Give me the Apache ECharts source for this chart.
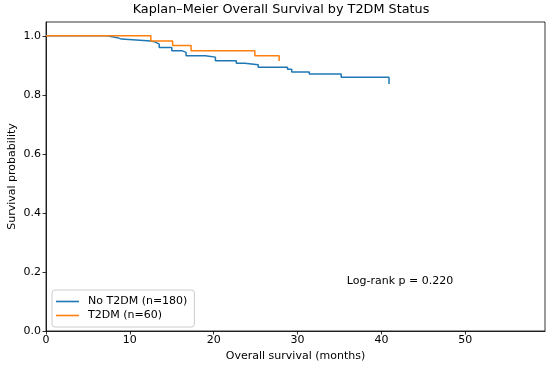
<!DOCTYPE html>
<html>
<head>
<meta charset="utf-8">
<script src="https://cdn.jsdelivr.net/npm/echarts@6/dist/echarts.min.js"></script>
<style>html,body{margin:0;padding:0;background:#fff}#c{width:550px;height:368px}</style>
</head>
<body>
<div id="c"></div>
<script>
// Data
const noT2dmTimes    = [0, 7.3, 8.5, 9.0, 12.5, 13.1, 13.5, 15.0, 16.2, 16.7, 19.0, 20.2, 22.7, 23.7, 25.3, 28.8, 29.3, 31.4, 35.2, 40.9];
const noT2dmSurvival = [1.0, 0.994, 0.989, 0.983, 0.978, 0.972, 0.961, 0.950, 0.944, 0.933, 0.928, 0.916, 0.907, 0.902, 0.894, 0.887, 0.878, 0.871, 0.860, 0.837];
const t2dmTimes      = [0, 12.5, 15.1, 17.3, 24.9, 27.8];
const t2dmSurvival   = [1.0, 0.983, 0.967, 0.950, 0.933, 0.915];
const seriesNames    = ['No T2DM (n=180)', 'T2DM (n=60)'];
const xTicks = [0, 10, 20, 30, 40, 50];
const yTicks = [0.0, 0.2, 0.4, 0.6, 0.8, 1.0];
const annotation = 'Log-rank p = 0.220';

const FONT = 'DejaVu Sans';
const chart = echarts.init(document.getElementById('c'), null, {renderer: 'canvas'});
const zip = (a, b) => a.map((v, i) => [v, b[i]]);

chart.setOption({
  animation: false,
  backgroundColor: '#fff',
  textStyle: {fontFamily: FONT},
  grid: {left: 46, right: 5, top: 22, bottom: 37, containLabel: false, outerBoundsMode: 'none',
    show: true, borderColor: '#000', borderWidth: 0.8, backgroundColor: 'transparent'},
  xAxis: {
    type: 'value', min: 0, max: 59.5, interval: 10,
    name: 'Overall survival (months)', nameLocation: 'middle', nameGap: 20, nameMoveOverlap: false,
    nameTextStyle: {fontFamily: FONT, fontSize: 11, color: '#000'},
    axisLine: {show: true, lineStyle: {color: '#000', width: 0.8}},
    axisTick: {show: true, inside: false, length: 3.5, lineStyle: {color: '#000', width: 0.8}},
    axisLabel: {fontFamily: FONT, fontSize: 11, color: '#000', margin: 4, showMaxLabel: false,
      formatter: v => xTicks.includes(v) ? String(v) : ''},
    splitLine: {show: false}
  },
  yAxis: {
    type: 'value', min: 0, max: 1.047, interval: 0.2,
    name: 'Survival probability', nameLocation: 'middle', nameGap: 28, nameMoveOverlap: false,
    nameTextStyle: {fontFamily: FONT, fontSize: 11, color: '#000'},
    axisLine: {show: true, lineStyle: {color: '#000', width: 0.8}},
    axisTick: {show: true, inside: false, length: 3.5, lineStyle: {color: '#000', width: 0.8}},
    axisLabel: {fontFamily: FONT, fontSize: 11, color: '#000', margin: 5, showMaxLabel: false,
      formatter: v => yTicks.some(t => Math.abs(t - v) < 1e-6) ? v.toFixed(1) : ''},
    splitLine: {show: false}
  },
  legend: {
    orient: 'vertical', left: 52, top: 290,
    data: seriesNames,
    icon: 'rect', itemWidth: 23, itemHeight: 1.6, itemGap: 3,
    padding: [6, 7, 6, 4],
    backgroundColor: 'rgba(255,255,255,0.8)', borderColor: '#cccccc', borderWidth: 1, borderRadius: 3,
    textStyle: {fontFamily: FONT, fontSize: 11, color: '#000', padding: [0, 0, 0, 4]}
  },
  graphic: [
    {type: 'text', x: 281, y: 10, style: {text: 'Kaplan–Meier Overall Survival by T2DM Status', font: '12.8px "DejaVu Sans"', fill: '#000', align: 'center', verticalAlign: 'middle'}},
    {type: 'text', x: 400, y: 281, style: {text: annotation, font: '11px "DejaVu Sans"', fill: '#000', align: 'center', verticalAlign: 'middle'}}
  ],
  series: [
    {name: seriesNames[0], type: 'line', step: 'end', showSymbol: false, symbol: 'none',
      data: zip(noT2dmTimes, noT2dmSurvival), lineStyle: {color: '#1f77b4', width: 1.5}, itemStyle: {color: '#1f77b4'}},
    {name: seriesNames[1], type: 'line', step: 'end', showSymbol: false, symbol: 'none',
      data: zip(t2dmTimes, t2dmSurvival), lineStyle: {color: '#ff7f0e', width: 1.5}, itemStyle: {color: '#ff7f0e'}}
  ]
});
</script>
</body>
</html>
